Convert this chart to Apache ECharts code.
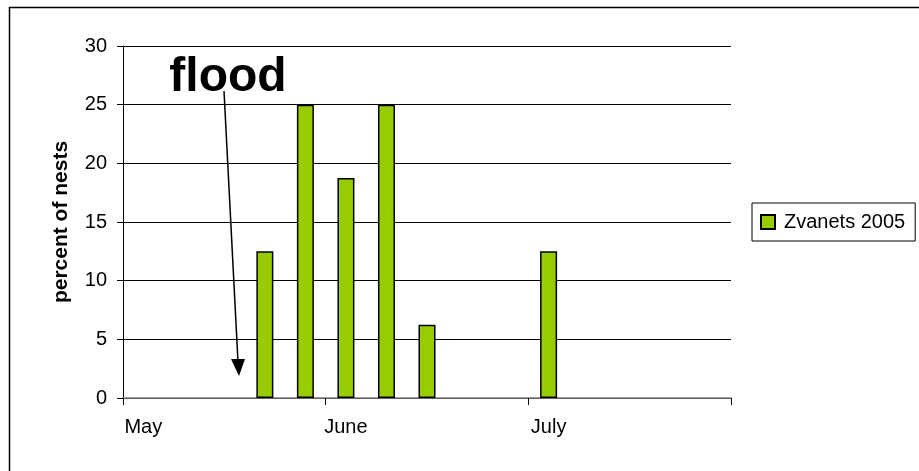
<!DOCTYPE html>
<html>
<head>
<meta charset="utf-8">
<script src="https://cdn.jsdelivr.net/npm/echarts@6/dist/echarts.min.js"></script>
<style>
  html, body { margin: 0; padding: 0; background: #fff; }
  #chart { width: 919px; height: 471px; }
</style>
</head>
<body>
<div id="chart"></div>
<script>
// Weekly slots from early May to the end of July
const weeks = ['May', '', '', '', '', 'June', '', '', '', '', 'July', '', '', '', ''];
// Share of nests started in each week (%)
const zvanets2005 = [0, 0, 0, 12.5, 25, 18.75, 25, 6.25, 0, 0, 12.5, 0, 0, 0, 0];
const seriesName = 'Zvanets 2005';
const yTicks = { min: 0, max: 30, step: 5 };

const FONT = '"Liberation Sans", Arial, sans-serif';

// empty weeks get no outline so nothing shows along the axis
const barData = zvanets2005.map(v => v === 0
  ? { value: v, itemStyle: { borderWidth: 0 } }
  : v);

const chart = echarts.init(document.getElementById('chart'), null, { renderer: 'canvas' });

chart.setOption({
  animation: false,
  backgroundColor: '#ffffff',
  textStyle: { fontFamily: FONT, color: '#000' },
  grid: { left: 123, right: 188, top: 46, bottom: 73, containLabel: false },
  legend: {
    left: 752, top: 203,
    orient: 'vertical',
    padding: [9, 10, 9, 8],
    itemGap: 0,
    itemWidth: 14, itemHeight: 14,
    icon: 'rect',
    borderColor: '#000', borderWidth: 1,
    textStyle: { fontFamily: FONT, fontSize: 20, color: '#000', padding: [0, 0, 0, 4] },
    data: [seriesName]
  },
  xAxis: {
    type: 'category',
    data: weeks,
    boundaryGap: true,
    axisLine: { lineStyle: { color: '#808080', width: 1.5 } },
    axisTick: {
      show: true,
      interval: (idx) => idx % 5 === 0,
      length: 7,
      lineStyle: { color: '#000', width: 1 }
    },
    axisLabel: { interval: 0, margin: 19, fontFamily: FONT, fontSize: 20, color: '#000' },
    splitLine: { show: false }
  },
  yAxis: {
    type: 'value',
    min: yTicks.min, max: yTicks.max, interval: yTicks.step,
    name: 'percent of nests',
    nameLocation: 'middle',
    nameGap: 51,
    nameTextStyle: { fontFamily: FONT, fontSize: 21, fontWeight: 'bold', color: '#000' },
    axisLine: { show: true, lineStyle: { color: '#000', width: 1 } },
    axisTick: { show: true, length: 6, lineStyle: { color: '#000' } },
    axisLabel: { margin: 16, fontFamily: FONT, fontSize: 20, color: '#000' },
    splitLine: { show: true, lineStyle: { color: '#000', width: 1 } }
  },
  series: [{
    name: seriesName,
    type: 'bar',
    data: barData,
    barWidth: 17,
    itemStyle: { color: '#99cc00', borderColor: '#000', borderWidth: 1.5 }
  }],
  graphic: [
    // outer chart frame
    {
      type: 'rect', silent: true,
      shape: { x: 9.5, y: 7.5, width: 1000, height: 1000 },
      style: { fill: 'none', stroke: '#000', lineWidth: 1.5 }
    },
    // "flood" annotation with arrow
    {
      type: 'text', silent: true,
      style: {
        text: 'flood', x: 228, y: 78,
        textAlign: 'center', textVerticalAlign: 'middle',
        font: 'bold 48px ' + FONT, fill: '#000'
      }
    },
    {
      type: 'line', silent: true,
      shape: { x1: 224, y1: 91, x2: 238, y2: 362 },
      style: { stroke: '#000', lineWidth: 1.5 }
    },
    {
      type: 'polygon', silent: true,
      shape: { points: [[231, 359], [245, 359], [239, 376]] },
      style: { fill: '#000' }
    }
  ]
});
</script>
</body>
</html>
